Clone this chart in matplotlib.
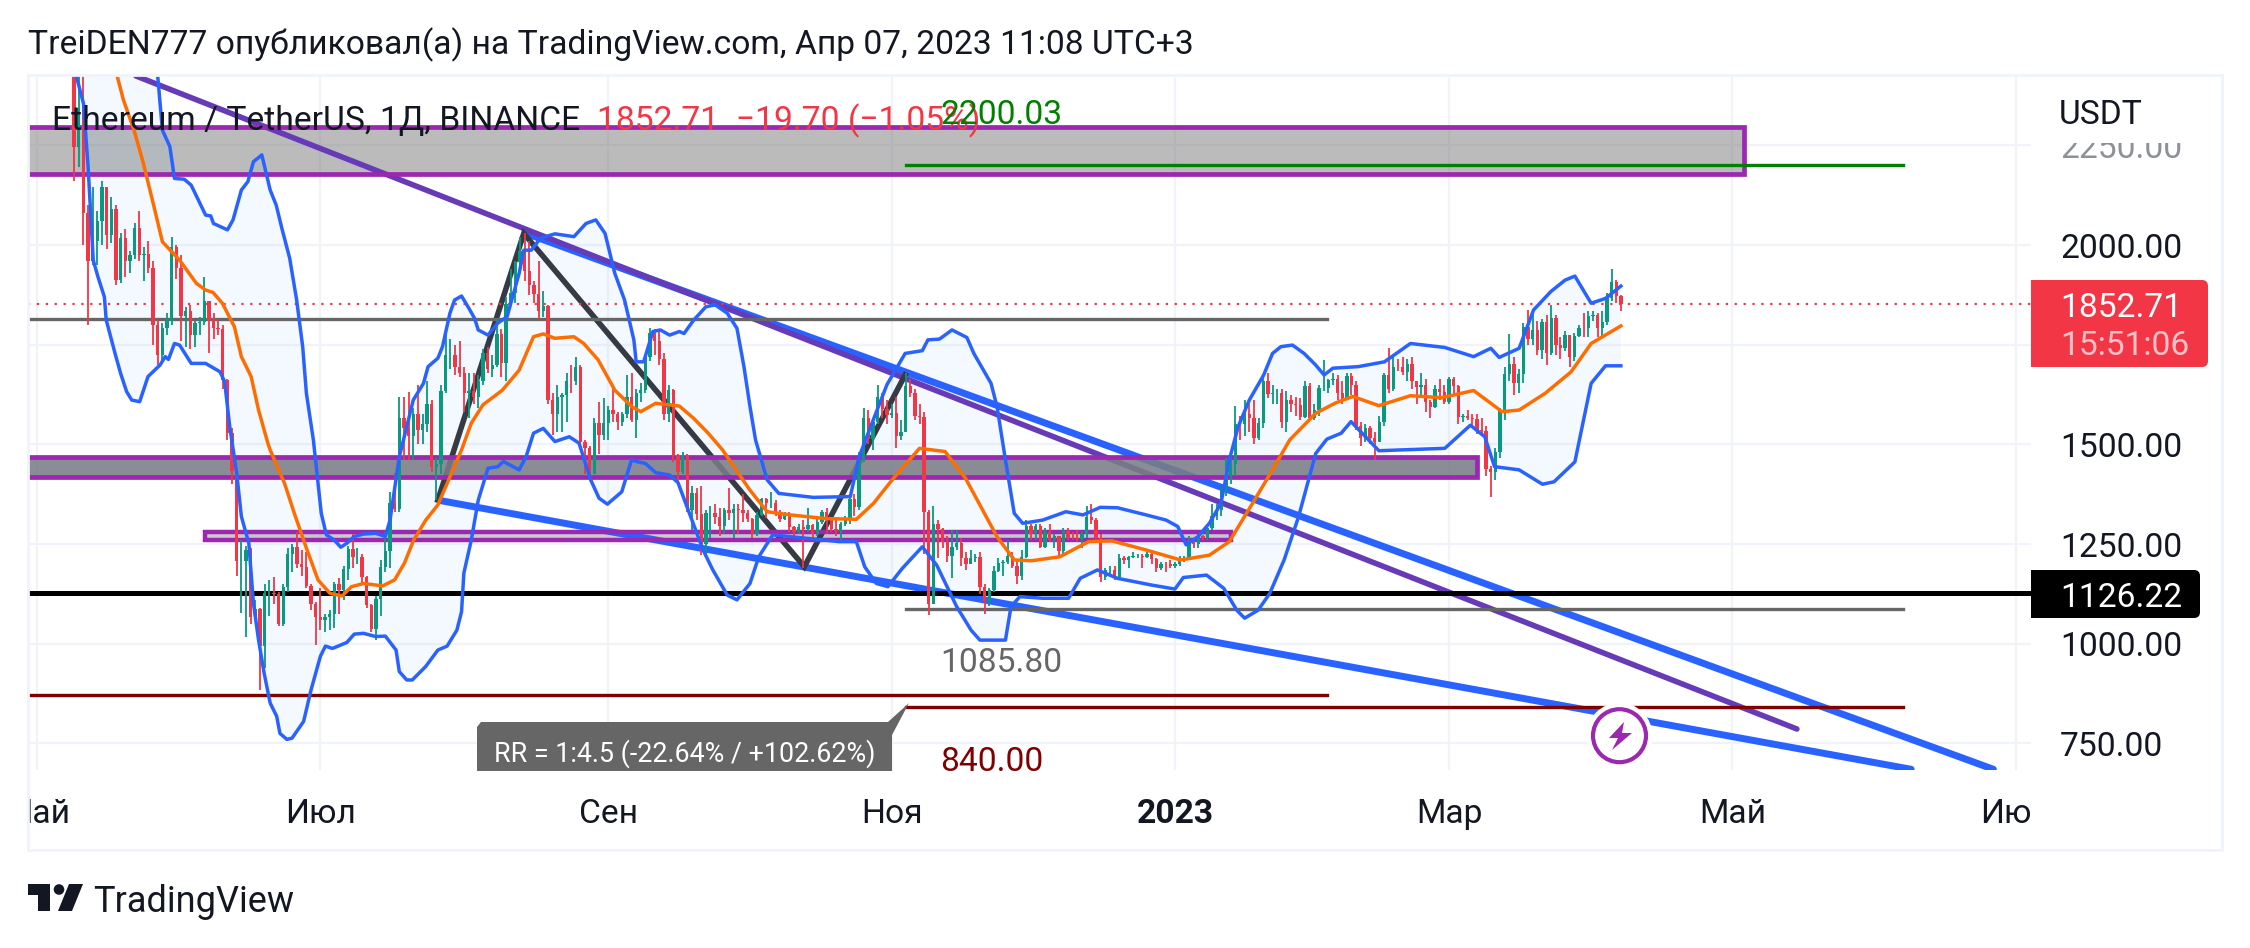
# TradingView style ETHUSDT daily chart

import numpy as np
import pandas as pd
import matplotlib
matplotlib.use("Agg")
import matplotlib.pyplot as plt
from matplotlib.patches import Rectangle, Circle, Polygon, FancyBboxPatch
from matplotlib.transforms import Bbox

plt.rcParams['font.family'] = ['Roboto', 'DejaVu Sans']

# x axis is days since the first month label
month_dates = ['2022-05-01', '2022-07-01', '2022-09-01', '2022-11-01', '2023-01-01', '2023-03-01', '2023-05-01', '2023-07-01']
month_labels = ['Май', 'Июл', 'Сен', 'Ноя', '2023', 'Мар', 'Май', 'Июл']
price_ticks = [750, 1000, 1250, 1500, 1750, 2000, 2250]
price_labels = ['750.00', '1000.00', '1250.00', '1500.00', '', '2000.00', '2250.00']

first_candle_day = 8
first_open = 2518
closes = [2245,2343,2080,1960,2010,2060,2145,2025,2090,1912,
          2017,1960,1975,2043,1974,1978,1943,1800,1725,1793,
          1810,1995,1942,1823,1834,1775,1805,1806,1860,1813,
          1793,1789,1662,1529,1434,1208,1208,1236,1066,1087,
          995,1126,1128,1125,1050,1143,1225,1243,1200,1192,
          1144,1099,1067,1059,1067,1075,1150,1134,1187,1238,
          1217,1217,1168,1098,1038,1113,1192,1233,1354,1339,
          1565,1542,1520,1577,1536,1550,1600,1442,1450,1635,
          1725,1725,1695,1680,1630,1635,1620,1660,1730,1690,
          1700,1777,1703,1853,1880,1958,1985,1936,1900,1877,
          1834,1848,1610,1575,1620,1625,1660,1658,1695,1505,
          1490,1425,1553,1523,1553,1585,1577,1555,1575,1618,
          1562,1630,1636,1718,1780,1760,1715,1575,1636,1472,
          1430,1470,1335,1378,1325,1250,1328,1328,1317,1295,
          1335,1329,1337,1336,1328,1312,1276,1324,1362,1352,
          1352,1329,1314,1322,1292,1279,1293,1288,1297,1275,
          1306,1331,1310,1287,1282,1300,1314,1363,1343,1460,
          1567,1514,1555,1620,1589,1573,1578,1520,1530,1646,
          1628,1570,1568,1330,1100,1300,1288,1255,1220,1243,
          1253,1216,1200,1214,1218,1143,1108,1135,1183,1203,
          1205,1220,1196,1169,1217,1295,1275,1295,1243,1279,
          1260,1270,1232,1282,1265,1264,1263,1275,1318,1310,
          1265,1167,1185,1186,1168,1216,1210,1218,1220,1221,
          1218,1226,1212,1190,1200,1199,1196,1200,1214,1214,
          1257,1251,1269,1264,1290,1320,1336,1386,1420,1450,
          1551,1550,1576,1567,1515,1553,1660,1627,1628,1628,
          1555,1612,1602,1598,1568,1647,1566,1586,1641,1641,
          1662,1665,1630,1615,1672,1650,1546,1515,1540,1515,
          1507,1555,1673,1640,1694,1693,1682,1702,1659,1643,
          1649,1607,1594,1640,1632,1605,1663,1647,1568,1570,
          1565,1563,1535,1533,1437,1430,1480,1585,1677,1702,
          1655,1676,1795,1765,1788,1737,1807,1730,1817,1750,
          1742,1775,1718,1773,1793,1791,1822,1825,1793,1808,
          1866,1908,1872,1852.71]
highs = [2545,2450,2440,2100,2145,2085,2160,2145,2120,2100,
         2030,2040,1985,2055,2085,1995,2010,1960,1815,1805,
         1830,2020,2000,1975,1845,1850,1810,1820,1920,1860,
         1830,1815,1800,1665,1540,1435,1260,1245,1240,1110,
         1090,1150,1160,1168,1130,1150,1240,1250,1280,1235,
         1230,1150,1105,1140,1075,1085,1155,1165,1195,1245,
         1275,1240,1225,1170,1100,1120,1210,1280,1380,1427,
         1620,1620,1632,1590,1649,1575,1660,1610,1465,1650,
         1785,1765,1750,1760,1695,1680,1680,1675,1740,1745,
         1725,1815,1790,1870,1940,1960,2020,2030,2010,1910,
         1960,1885,1850,1630,1650,1630,1680,1700,1720,1700,
         1510,1495,1565,1605,1615,1595,1645,1580,1580,1675,
         1680,1640,1655,1725,1791,1790,1790,1730,1650,1640,
         1475,1480,1475,1395,1390,1395,1335,1345,1350,1340,
         1340,1390,1350,1350,1375,1335,1315,1330,1365,1365,
         1380,1360,1335,1330,1330,1295,1300,1310,1340,1300,
         1315,1335,1340,1315,1310,1305,1320,1370,1375,1480,
         1590,1585,1565,1650,1630,1610,1600,1620,1560,1680,
         1665,1640,1600,1580,1335,1345,1310,1290,1270,1285,
         1285,1265,1230,1235,1225,1230,1150,1140,1195,1215,
         1210,1260,1230,1210,1235,1310,1300,1300,1300,1290,
         1300,1275,1270,1290,1290,1280,1285,1280,1345,1350,
         1315,1275,1190,1195,1195,1225,1220,1220,1230,1225,
         1225,1230,1235,1215,1205,1205,1210,1205,1220,1220,
         1270,1260,1275,1272,1295,1350,1350,1390,1465,1465,
         1595,1570,1610,1600,1610,1565,1670,1680,1650,1640,
         1640,1635,1625,1620,1615,1660,1655,1600,1650,1711,
         1665,1680,1675,1660,1680,1680,1660,1555,1550,1545,
         1530,1570,1680,1742,1725,1715,1720,1715,1720,1660,
         1680,1665,1610,1650,1665,1650,1670,1670,1650,1575,
         1585,1575,1575,1565,1545,1445,1490,1590,1695,1778,
         1720,1690,1805,1838,1840,1810,1815,1825,1850,1825,
         1770,1785,1775,1780,1800,1830,1835,1835,1830,1835,
         1880,1941,1913,1875]
lows = [2160,2195,2000,1800,1950,1950,2000,1990,2005,1900,
        1905,1920,1930,1965,1960,1910,1930,1750,1700,1705,
        1775,1800,1915,1760,1745,1740,1745,1775,1800,1730,
        1765,1775,1640,1510,1400,1170,1076,1018,1050,1060,
        884,938,1070,1100,1045,1045,1130,1180,1190,1170,
        1140,1085,997,1035,1030,1035,1040,1075,1110,1160,
        1190,1200,1150,1090,1030,1009,1070,1180,1190,1330,
        1330,1460,1460,1460,1500,1500,1530,1430,1360,1425,
        1630,1690,1675,1670,1580,1565,1600,1590,1650,1680,
        1670,1695,1670,1660,1850,1855,1950,1910,1875,1855,
        1815,1820,1600,1523,1530,1530,1555,1630,1650,1495,
        1425,1420,1425,1475,1510,1510,1555,1535,1545,1565,
        1555,1515,1605,1630,1710,1725,1700,1560,1555,1455,
        1402,1425,1330,1285,1310,1222,1225,1265,1300,1270,
        1275,1310,1265,1275,1305,1305,1265,1270,1320,1315,
        1340,1320,1305,1310,1280,1265,1275,1189,1280,1265,
        1270,1300,1275,1280,1270,1255,1295,1300,1320,1335,
        1455,1500,1485,1550,1565,1550,1565,1490,1510,1530,
        1620,1560,1550,1225,1072,1100,1215,1240,1205,1165,
        1235,1195,1185,1200,1205,1125,1075,1095,1130,1180,
        1170,1200,1190,1150,1160,1215,1260,1260,1240,1240,
        1255,1240,1220,1225,1260,1260,1255,1240,1265,1300,
        1260,1155,1160,1175,1160,1165,1200,1190,1215,1215,
        1190,1215,1200,1180,1185,1180,1190,1190,1195,1205,
        1210,1240,1240,1260,1260,1285,1310,1320,1370,1400,
        1420,1510,1520,1530,1502,1510,1540,1615,1600,1600,
        1540,1530,1580,1570,1560,1565,1560,1560,1570,1635,
        1630,1650,1610,1600,1610,1625,1535,1495,1505,1500,
        1461,1505,1545,1630,1635,1685,1675,1660,1640,1600,
        1620,1580,1565,1590,1610,1600,1600,1625,1550,1555,
        1560,1545,1525,1525,1420,1369,1410,1465,1560,1660,
        1625,1630,1655,1750,1750,1725,1715,1700,1725,1725,
        1715,1735,1695,1710,1770,1770,1770,1810,1770,1766,
        1800,1860,1855,1835]

# Bollinger bands and the basis line, points picked along the curves
upper_days = [8,25,26,27,28.6,29.6,31.7,33.2,36.3,37.4,38,41,42.2,44,45.4,46.6,48.4,50.2,51.5,52.8,54.4,55.9,57.2,58,59.5,60.5,61.2,62.3,64,65.4,66.7,68.3,70.3,72.9,75,76,78,79.6,81,83.2,84.2,86.3,87.3,88.9,89.9,91.4,93,94.2,95,97.1,99.2,101.2,103.8,104.8,106.4,108.4,111.5,115.6,118.2,120.3,122.3,124.4,126.5,128.5,129,130.6,132.6,134.2,136.2,138.3,139.3,141.4,144,146,148.6,150.7,152.2,153.5,154.7,157.2,159.7,167.1,175.1,177,180,183,186.9,190.6,191.8,194.3,197,200.2,201.7,205.4,206.7,208.5,210.4,212.2,216.5,221.5,225.2,228.9,232.6,238.8,243.1,245.6,247.4,249.9,252.4,254.9,256.7,258.6,261,264.1,266,267.8,270.3,272.8,275.3,277.1,279,284.5,290.1,295.7,303.1,309.3,313,314.8,319.1,322.2,325.9,329,331.1,334.6,337.7,341]
upper_vals = [3000,2600,2422,2288,2247,2167,2165,2150,2075,2073,2054,2038,2063,2138,2159,2209,2226,2138,2100,2038,1967,1862,1745,1628,1511,1402,1327,1273,1260,1242,1252,1269,1275,1277,1269,1310,1469,1544,1611,1653,1695,1716,1745,1829,1862,1872,1841,1816,1787,1774,1804,1820,1929,1987,1987,2017,2028,2021,2054,2063,2029,1929,1862,1762,1707,1707,1783,1787,1774,1783,1778,1812,1845,1850,1829,1791,1695,1595,1511,1411,1377,1367,1369,1469,1560,1650,1728,1735,1762,1764,1787,1768,1728,1653,1594,1461,1327,1302,1310,1331,1323,1342,1341,1323,1310,1294,1248,1268,1302,1352,1461,1544,1611,1674,1728,1745,1749,1728,1699,1674,1691,1695,1707,1753,1743,1720,1741,1718,1741,1837,1883,1912,1922,1854,1866,1897]
lower_days = [8,8.5,10,11,12.1,13.1,14.5,14.9,16.8,18,19.3,20.4,22.1,23.9,26.5,27.6,28.3,29.6,30.7,33.2,34.8,36.3,39.4,40.4,41.5,43,44,45.6,46.6,47.7,48.9,50.2,51.6,52.3,53.8,54.9,57.4,59,61,62.1,63.6,66.7,68.3,70.3,72.9,75,77.3,78,79.6,80.8,83.7,86.3,88.3,90.4,91.4,91.9,93.5,95,97.1,99.2,100.4,103.8,105.3,106.9,109,111.5,114.6,116.7,119.2,121,122.8,125.9,128,129,131,133.2,136.2,138,143.4,145.5,148.6,150.7,153.5,155.4,158.4,172.7,176.4,178.2,180.7,183.2,186.3,190.6,193.7,198,201.1,203,208.5,209.7,211.6,216.5,222.1,224.6,228.3,232.6,240,245,246.8,251.8,255.5,258.3,260,262.9,265.4,268.5,271.6,275.3,277.7,280.8,282.9,288.9,303.1,308.6,311.7,313.8,319.1,324.1,326.6,331.1,334.6,337.7,341]
lower_vals = [2600,2422,2355,2196,1962,1921,1870,1812,1728,1678,1632,1611,1607,1670,1699,1720,1713,1753,1749,1703,1703,1703,1682,1657,1544,1427,1319,1252,1101,1009,926,851,818,775,760,763,805,884,968,994,988,1003,1024,1026,1018,1019,984,930,909,909,943,984,994,1034,1080,1177,1260,1360,1440,1444,1457,1436,1469,1528,1540,1507,1519,1503,1411,1365,1350,1381,1461,1457,1452,1429,1423,1404,1235,1185,1122,1110,1151,1218,1273,1256,1256,1193,1151,1143,1189,1243,1197,1093,1034,1009,1009,1093,1118,1114,1114,1164,1185,1164,1147,1137,1166,1172,1139,1084,1064,1084,1126,1210,1318,1477,1513,1528,1557,1484,1490,1548,1519,1444,1436,1400,1406,1456,1653,1697,1697]
basis_days = [16,17.3,18.6,20.9,22.9,25,27,30.7,34.3,36.3,37.9,39.9,42.5,44,46.1,47.7,49.7,50.2,53.3,55.4,57.9,60.5,63.1,65.7,67.7,70.3,74.4,77,79.1,81.1,83.7,86.3,88.3,91.4,93.5,96,100.2,103.8,106.9,109,111.5,115.6,117.7,120.8,124.4,128,130,133.2,138.3,141.4,144.5,147.6,153.5,157.2,162.2,169.6,176.4,180.1,184.4,190,195.5,199.9,203.6,206.7,210.4,214.1,220.2,226.4,231.4,238.8,246.2,252.4,256.7,261.7,266,269.7,275.3,279.6,283.3,288.9,295.7,302.4,309.3,313,315.4,319.1,324.7,330.3,334.6,341]
basis_vals = [2500,2422,2364,2288,2205,2105,2008,1962,1904,1887,1881,1854,1795,1720,1670,1586,1503,1486,1402,1327,1243,1160,1126,1120,1143,1151,1145,1160,1202,1260,1310,1348,1402,1486,1553,1599,1636,1686,1770,1777,1766,1770,1753,1712,1636,1595,1582,1603,1596,1565,1528,1486,1385,1331,1323,1314,1312,1352,1415,1490,1482,1415,1335,1268,1210,1208,1218,1256,1258,1235,1210,1222,1256,1352,1436,1511,1578,1604,1620,1597,1622,1617,1635,1603,1582,1586,1628,1682,1753,1797]

# drawings on the chart, (day, price)
zigzag_days = [86.3, 104.8, 165.2, 186.9]
zigzag_vals = [1360, 2029, 1193, 1674]
purple_trend_days = [21.3, 378.9]
purple_trend_vals = [2424, 786]
blue_top_days = [105.3, 421.2]
blue_top_vals = [2029, 685]
blue_low_days = [86.8, 403.5]
blue_low_vals = [1359, 685]

last_price = 1852.71
support_price = 1126.22
target_price = 2200.03
entry_price = 1085.80
stop_price = 840.00
left_stop_price = 871
left_entry_price = 1814

W, H = 2250, 948
PANE_L, PANE_R, PANE_T, PANE_B = 28, 2031, 75, 770
RIGHT_EDGE, BOTTOM_EDGE = 2222, 850
GRID = '#f0f3fa'
TEXT = '#131722'
RED = '#F23645'
GREEN = '#089981'
BOX_PURPLE = '#9C27B0'
TV_BLUE = '#2962FF'
FONT = 24.2

fig = plt.figure(figsize=(W / 100, H / 100), dpi=100, facecolor='white')
ax = fig.add_axes([PANE_L / W, 1 - PANE_B / H, (PANE_R - PANE_L) / W, (PANE_B - PANE_T) / H])
ax.set_xlim(-1.94, 429.3)
ax.set_ylim(683.2, 2426.4)
for s in ax.spines.values():
    s.set_visible(False)

start = pd.Timestamp(month_dates[0])
month_days = [(pd.Timestamp(m) - start).days for m in month_dates]

ax.set_axisbelow(True)
ax.grid(True, color=GRID, lw=1.6, zorder=0)
ax.yaxis.tick_right()
ax.set_yticks(price_ticks)
ax.set_yticklabels(price_labels, fontsize=FONT, color=TEXT)
ax.set_xticks(month_days)
ax.set_xticklabels(month_labels, fontsize=FONT, color=TEXT)
ax.tick_params(axis='both', length=0)
ax.tick_params(axis='y', pad=21)
ax.tick_params(axis='x', pad=20)
time_clip = Bbox([[PANE_L, 0], [PANE_R, H]])
for lab in ax.get_xticklabels():
    lab.set_clip_box(time_clip)
    if lab.get_text() == '2023':
        lab.set_fontweight('bold')
# top price label fades out under the currency name
top_label = ax.get_yticklabels()[-1]
top_label.set_color('#8f9198')
top_label.set_clip_box(Bbox([[PANE_R, 0], [W, H - 143]]))

# boxes
ax.add_patch(Rectangle((-30, 2177), 367.6 + 30, 118, facecolor='#787878', alpha=0.5, edgecolor='none', zorder=1.5))
ax.add_patch(Rectangle((-30, 2177), 367.6 + 30, 118, fill=False, edgecolor=BOX_PURPLE, lw=3.4, zorder=3.5))
ax.add_patch(Rectangle((36.2, 1261), 220.8, 20, facecolor='#9a9a9a', alpha=0.5, edgecolor='none', zorder=1.6))
ax.add_patch(Rectangle((36.2, 1261), 220.8, 20, fill=False, edgecolor=BOX_PURPLE, lw=3.2, zorder=3.5))
ax.add_patch(Rectangle((-30, 1417), 340, 52.5, facecolor='#7a7d87', alpha=0.88, edgecolor='none', zorder=3))
ax.add_patch(Rectangle((-30, 1417), 340, 52.5, fill=False, edgecolor=BOX_PURPLE, lw=3.4, zorder=3.5))

# trend lines and levels
ax.plot(blue_top_days, blue_top_vals, color=TV_BLUE, lw=5.0, solid_capstyle='round', zorder=2)
ax.plot(blue_low_days, blue_low_vals, color=TV_BLUE, lw=5.0, solid_capstyle='round', zorder=2)
ax.plot(purple_trend_days, purple_trend_vals, color='#673AB7', lw=4.0, solid_capstyle='round', zorder=2.2)
ax.plot(zigzag_days, zigzag_vals, color='#363A45', lw=4.0, solid_joinstyle='miter', zorder=2.4)

ax.plot([-2, 429.3], [support_price, support_price], color='black', lw=3.6, zorder=3.6)
ax.plot([-2, 277.7], [left_entry_price, left_entry_price], color='#666666', lw=2.4, zorder=3.6)
ax.plot([187, 401.7], [entry_price, entry_price], color='#666666', lw=2.4, zorder=3.6)
ax.plot([-2, 277.7], [left_stop_price, left_stop_price], color='#800000', lw=2.4, zorder=3.6)
ax.plot([187, 401.7], [stop_price, stop_price], color='#800000', lw=2.4, zorder=3.6)
ax.plot([187, 401.7], [target_price, target_price], color='#008000', lw=2.4, zorder=3.6)
ax.axhline(last_price, color=RED, lw=1.6, ls=(0, (1, 3)), zorder=3.7)

# bollinger
band_x = np.concatenate([upper_days, lower_days[::-1]])
band_y = np.concatenate([upper_vals, lower_vals[::-1]])
ax.fill(band_x, band_y, color='#2196F3', alpha=0.05, lw=0, zorder=1.8)
ax.plot(upper_days, upper_vals, color=TV_BLUE, lw=2.5, zorder=5)
ax.plot(lower_days, lower_vals, color=TV_BLUE, lw=2.5, zorder=5)
ax.plot(basis_days, basis_vals, color='#FF6D00', lw=2.5, zorder=5)

# candles
closes = np.array(closes)
opens = np.concatenate([[first_open], closes[:-1]])
days = first_candle_day + np.arange(len(closes))
colors = [GREEN if c >= o else RED for o, c in zip(opens, closes)]
ax.vlines(days, lows, highs, colors=colors, lw=1.3, zorder=4.5)
ax.bar(days, np.abs(closes - opens), bottom=np.minimum(opens, closes), width=0.72, color=colors, lw=0, zorder=4.6)

# everything around the chart goes on a page sized axes, in pixels
page = fig.add_axes([0, 0, 1, 1], zorder=5)
page.set_xlim(0, W)
page.set_ylim(H, 0)
page.axis('off')
page.patch.set_alpha(0)

page.add_patch(Rectangle((PANE_L, PANE_T), RIGHT_EDGE - PANE_L, BOTTOM_EDGE - PANE_T, fill=False, edgecolor=GRID, lw=2.0))

page.text(28, 54, 'TreiDEN777 опубликовал(а) на TradingView.com, Апр 07, 2023 11:08 UTC+3', fontsize=FONT, color=TEXT, va='baseline')
page.text(52, 130, 'Ethereum / TetherUS, 1Д, BINANCE', fontsize=FONT, color=TEXT, va='baseline')
page.text(597, 130, '1852.71  −19.70 (−1.05%)', fontsize=FONT, color=RED, va='baseline')
page.text(941, 124, '2200.03', fontsize=FONT, color='#008000', va='baseline')
page.text(940, 672, '1085.80', fontsize=FONT, color='#666666', va='baseline')
t = page.text(940, 771, '840.00', fontsize=FONT, color='#800000', va='baseline')
t.set_clip_box(Bbox([[0, H - 770], [W, H]]))
page.text(2059, 124, 'USDT', fontsize=FONT, color=TEXT, va='baseline')

# risk reward tag, cut by the pane bottom
page.add_patch(Polygon([(481, 722), (888, 722), (909, 703), (892, 735), (892, 771), (477, 771), (477, 727)], closed=True, facecolor='#666666', edgecolor='none'))
page.text(494, 762, 'RR = 1:4.5 (-22.64% / +102.62%)', fontsize=19.4, color='white', va='baseline')

# last price and level tags
page.add_patch(FancyBboxPatch((2035, 284), 169, 79, boxstyle='round,pad=4,rounding_size=6', facecolor=RED, edgecolor='none'))
page.add_patch(Rectangle((2031, 280), 20, 87, facecolor=RED, edgecolor='none'))
page.text(2060, 317, '1852.71', fontsize=FONT, color='white', va='baseline')
page.text(2060, 355, '15:51:06', fontsize=FONT, color='#fbc1c7', va='baseline')
page.add_patch(FancyBboxPatch((2035, 574), 161, 40, boxstyle='round,pad=4,rounding_size=6', facecolor='black', edgecolor='none'))
page.add_patch(Rectangle((2031, 570), 20, 48, facecolor='black', edgecolor='none'))
page.text(2060, 607, '1126.22', fontsize=FONT, color='white', va='baseline')

# lightning icon
page.add_patch(Circle((1619.5, 735.7), 33, facecolor='white', edgecolor='none'))
page.add_patch(Circle((1619.5, 735.7), 26.5, facecolor='white', edgecolor=BOX_PURPLE, lw=3.0))
page.add_patch(Polygon([(1624, 722), (1609, 738), (1618, 738), (1612, 750), (1632, 733), (1622, 733)], closed=True, facecolor=BOX_PURPLE, edgecolor='none'))

# logo
logo = '#131722'
page.add_patch(Polygon([(28, 884), (50, 884), (50, 911), (38, 911), (38, 895), (28, 895)], closed=True, facecolor=logo, edgecolor='none'))
page.add_patch(Circle((59, 889.5), 5.3, facecolor=logo, edgecolor='none'))
page.add_patch(Polygon([(69, 884), (83, 884), (72, 911), (58, 911)], closed=True, facecolor=logo, edgecolor='none'))
page.text(93, 911.5, 'TradingView', fontsize=26.0, color=TEXT, va='baseline')

fig.savefig('out.png', dpi=100)
